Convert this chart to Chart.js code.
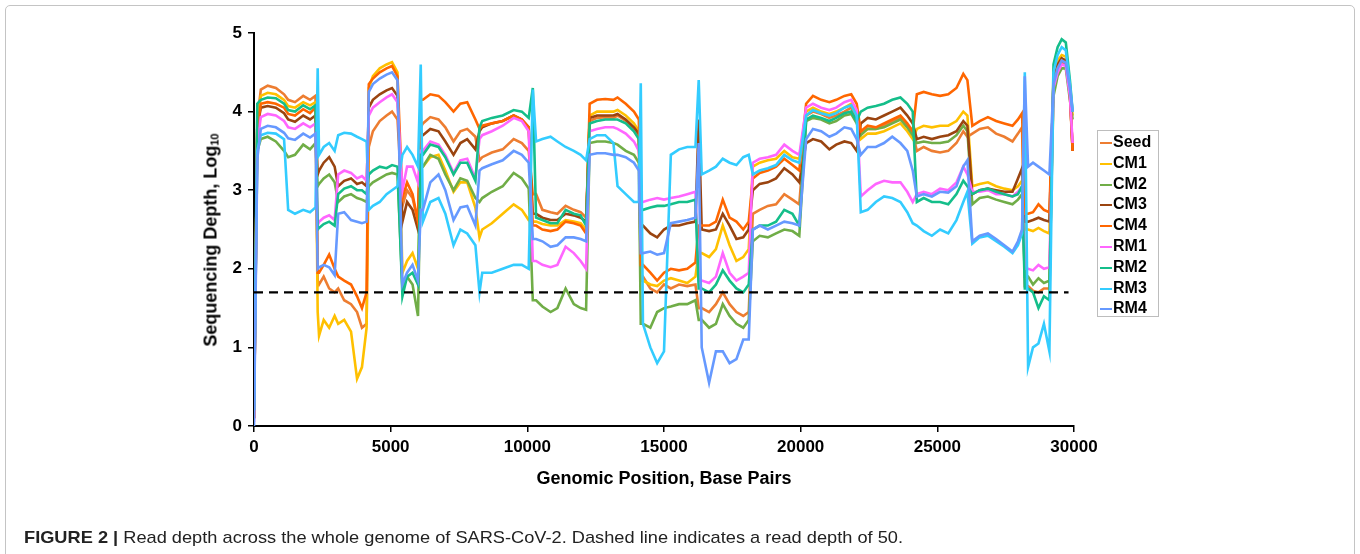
<!DOCTYPE html>
<html>
<head>
<meta charset="utf-8">
<script src="https://cdn.jsdelivr.net/npm/chart.js@4.4.1/dist/chart.umd.min.js"></script>
<style>
  html, body { margin: 0; padding: 0; background: #ffffff; }
  #wrap { position: relative; width: 1360px; height: 554px; overflow: hidden; font-family: "Liberation Sans", Arial, sans-serif; }
  #frame { position: absolute; left: 5px; top: 5px; width: 1350px; height: 560px; border: 1px solid #c4c4c4; border-radius: 5px; box-sizing: border-box; }
  #chart { position: absolute; left: 0; top: 0; }
  #ytitle { position: absolute; left: 211px; top: 240px; transform: translate(-50%, -50%) rotate(-90deg); font-weight: bold; font-size: 18px; white-space: nowrap; color: #000; }
  #ytitle sub { font-size: 11px; vertical-align: -2px; }
  #legend { position: absolute; left: 1097px; top: 130px; width: 62px; height: 187px; border: 1px solid #bdbdbd; box-sizing: border-box; padding-top: 1px; }
  .li { position: relative; height: 20.8px; line-height: 20.8px; font-weight: bold; font-size: 16px; color: #000; white-space: nowrap; }
  .li i { position: absolute; left: 2px; top: 10px; width: 12px; height: 2px; }
  .li span { position: absolute; left: 15px; top: 0; }
  #cap { position: absolute; left: 24px; top: 528px; font-size: 17px; color: #222; white-space: nowrap; transform-origin: 0 0; }
</style>
</head>
<body>
<div id="wrap">
  <div id="frame"></div>
  <canvas id="chart" width="1360" height="554"></canvas>
  <div id="ytitle">Sequencing Depth, Log<sub>10</sub></div>
  <div id="legend"></div>
  <div id="cap"><b>FIGURE 2 |</b> Read depth across the whole genome of SARS-CoV-2. Dashed line indicates a read depth of 50.</div>
</div>
<script>
// ---------------- data ----------------
const seriesNames = ['Seed', 'CM1', 'CM2', 'CM3', 'CM4', 'RM1', 'RM2', 'RM3', 'RM4'];

// genomic positions (bp) shared by all series
const positions = [
  0, 120, 250, 500, 800, 1100, 1250, 1500, 1800, 2050, 2250,
  2330, 2380, 2550, 2750, 2950,
  3080, 3300, 3550, 3770, 3950, 4120,
  4200, 4350, 4600, 4850, 5050, 5250,
  5430, 5600, 5800, 6000,
  6100,
  6180, 6450, 6750, 7000, 7300, 7550, 7800, 8100,
  8250, 8350, 8700, 9100, 9500, 9800, 10050,
  10200,
  10320, 10550, 10850, 11100, 11400, 11700, 11950, 12150,
  12280, 12550, 12850, 13150, 13300, 13600, 13900, 14080,
  14150,
  14230, 14500, 14750, 15000, 15250, 15550, 15850, 16150,
  16270,
  16380, 16650, 16900, 17150, 17400, 17650, 17900, 18100,
  18250, 18500, 18800, 19100, 19400, 19700, 19950,
  20200, 20450, 20750, 21050, 21300, 21600, 21850, 22050,
  22200, 22450, 22750, 23050, 23350, 23650, 23900, 24100,
  24250, 24500, 24800, 25100, 25400, 25700, 25950, 26100,
  26280, 26550, 26850, 27150, 27450, 27750, 27950, 28100,
  28200,
  28320, 28500, 28700, 28900, 29100,
  29250, 29400, 29550, 29700, 29850, 29950
];

// log10 read depth per series
const seed = [
  0.1, 3.9, 4.28, 4.33, 4.3, 4.22, 4.15, 4.12, 4.2, 4.15, 4.2,
  1.85, 1.8, 1.9, 1.75, 1.7,
  1.75, 1.6, 1.55, 1.45, 1.25, 1.3,
  3.55, 3.75, 3.88, 3.95, 4.0, 3.9,
  2.8, 3.0, 2.9, 2.6,
  3.8,
  3.85, 3.93, 3.9, 3.8, 3.62, 3.75, 3.78, 3.68,
  3.38, 3.42, 3.48, 3.52, 3.65, 3.6, 3.5,
  2.95,
  2.95, 2.75, 2.72, 2.7, 2.8, 2.75, 2.72, 2.65,
  3.88, 3.92, 3.93, 3.92, 3.95, 3.88, 3.78, 3.7,
  1.9,
  1.9, 1.75, 1.7, 1.8, 1.75, 1.8, 1.78, 1.8,
  1.5,
  1.5, 1.45, 1.55, 1.7, 1.55, 1.45, 1.4, 1.45,
  2.7, 2.75, 2.8, 2.82, 2.95, 2.88, 2.82,
  3.95, 4.0, 3.97, 3.92, 3.95, 4.0, 4.05, 3.92,
  3.72, 3.78, 3.78, 3.82, 3.88, 3.92, 3.82, 3.72,
  3.5, 3.55, 3.5, 3.48, 3.5, 3.6, 3.75, 3.68,
  3.72, 3.78, 3.8, 3.72, 3.68, 3.62, 3.72, 3.8,
  1.78,
  1.78, 1.72, 1.7, 1.75, 1.75,
  4.35, 4.55, 4.62, 4.6, 4.2, 3.5
];
const cm1 = [
  0.1, 3.8, 4.2, 4.24, 4.22, 4.15, 4.07, 4.05, 4.12, 4.08, 4.12,
  1.45, 1.15, 1.35, 1.25, 1.4,
  1.3, 1.35, 1.2, 0.6, 0.75, 1.25,
  4.3, 4.45, 4.55, 4.6, 4.63, 4.5,
  1.95, 2.1, 2.2, 2.0,
  3.3,
  3.3, 3.42, 3.45, 3.25, 2.98, 3.1, 3.1, 2.78,
  2.4, 2.5, 2.58, 2.7, 2.82, 2.75, 2.62,
  2.6,
  2.6, 2.57, 2.55, 2.55, 2.62, 2.6, 2.58, 2.5,
  3.95, 4.0, 4.0, 4.0, 4.02, 3.95, 3.85, 3.75,
  1.85,
  1.85, 1.8, 1.78, 1.85, 1.88, 1.85, 1.82, 1.9,
  2.2,
  2.2, 2.15, 2.25, 2.55, 2.3, 2.1, 2.15, 2.25,
  3.3, 3.35, 3.38, 3.4, 3.5, 3.42, 3.4,
  4.0, 4.05, 4.0, 3.97, 4.0, 4.05, 4.1, 3.97,
  3.65, 3.72, 3.72, 3.75, 3.8, 3.85, 3.75, 3.65,
  3.78, 3.82, 3.8, 3.82, 3.82, 3.88, 4.0, 3.95,
  3.05, 3.08, 3.1, 3.05, 3.02, 3.0, 3.05, 3.12,
  2.5,
  2.5, 2.48, 2.52, 2.48, 2.45,
  4.45, 4.65, 4.72, 4.7, 4.3, 3.95
];
const cm2 = [
  0.2, 3.5, 3.65, 3.68, 3.62, 3.5, 3.42, 3.45, 3.58, 3.52, 3.6,
  3.05, 3.08, 3.15, 3.2, 3.1,
  2.85, 2.92, 2.95, 2.9, 2.88, 2.85,
  3.05, 3.1, 3.15, 3.2, 3.22, 3.2,
  1.75, 1.9, 1.8, 1.4,
  3.3,
  3.3, 3.45, 3.4, 3.2, 3.0, 3.15, 3.12, 2.9,
  2.85, 2.9, 2.98, 3.05, 3.22, 3.15, 3.02,
  1.6,
  1.6, 1.52, 1.45, 1.5, 1.75, 1.55, 1.5, 1.48,
  3.6, 3.62, 3.62, 3.6, 3.58, 3.5, 3.45, 3.35,
  1.3,
  1.3, 1.25, 1.45, 1.5, 1.52, 1.55, 1.55, 1.6,
  1.35,
  1.35, 1.25, 1.3, 1.55, 1.4, 1.3, 1.25, 1.35,
  2.35, 2.42, 2.4, 2.45, 2.5, 2.48, 2.42,
  3.88, 3.92, 3.9, 3.85, 3.88, 3.95, 3.97, 3.85,
  3.7, 3.78, 3.78, 3.8, 3.85, 3.9, 3.8, 3.7,
  3.6, 3.62, 3.6, 3.6, 3.62, 3.7, 3.82, 3.75,
  2.82, 2.9, 2.92, 2.88, 2.85, 2.82, 2.88, 2.95,
  1.9,
  1.9, 1.8, 1.88, 1.82, 1.85,
  4.2, 4.45, 4.55, 4.55, 4.15, 3.9
];
const cm3 = [
  0.1, 3.8, 4.05, 4.07, 4.05, 3.98, 3.9, 3.87, 3.95, 3.9, 3.95,
  3.2, 3.25, 3.35, 3.42, 3.3,
  3.05, 3.12, 3.15, 3.08, 3.1, 3.05,
  4.05, 4.15, 4.22, 4.27, 4.3, 4.2,
  2.6, 2.85, 2.75, 2.5,
  3.7,
  3.7, 3.78, 3.75, 3.62, 3.45, 3.6, 3.65, 3.52,
  3.75, 3.8, 3.85, 3.88, 3.95, 3.9, 3.8,
  2.7,
  2.7, 2.65, 2.62, 2.62, 2.7, 2.68, 2.65, 2.6,
  3.92, 3.95, 3.95, 3.95, 3.97, 3.9, 3.8, 3.72,
  2.55,
  2.55, 2.45, 2.4, 2.5, 2.55, 2.55, 2.58, 2.6,
  3.9,
  2.5, 2.48, 2.5, 2.7, 2.55, 2.38, 2.4, 2.5,
  3.0, 3.08, 3.1, 3.15, 3.28, 3.2, 3.1,
  3.6, 3.65, 3.62, 3.52, 3.58, 3.62, 3.6, 3.5,
  3.85, 3.92, 3.9, 3.95, 4.0, 4.05, 3.95, 3.85,
  3.65, 3.68, 3.65, 3.68, 3.7, 3.75, 3.88, 3.82,
  2.95, 3.0, 3.02, 3.0, 2.98, 2.98, 3.15, 3.28,
  2.6,
  2.6, 2.62, 2.65, 2.62, 2.6,
  4.4, 4.6, 4.68, 4.65, 4.25, 3.5
];
const cm4 = [
  0.1, 3.8, 4.1, 4.12, 4.1, 4.05, 3.97, 3.95, 4.03, 3.98, 4.05,
  1.95, 1.95, 2.05, 2.18, 2.0,
  1.9, 1.85, 1.8, 1.65, 1.5, 1.7,
  4.35, 4.42, 4.5, 4.55, 4.58, 4.45,
  2.9, 3.1, 2.95, 2.6,
  4.15,
  4.15, 4.22, 4.2, 4.12, 4.0, 4.1, 4.12, 3.9,
  3.78, 3.82, 3.85, 3.88, 3.95, 3.9, 3.8,
  2.55,
  2.55, 2.5, 2.48, 2.5, 2.6, 2.58, 2.55, 2.45,
  4.1, 4.15, 4.16, 4.15, 4.18, 4.1, 4.0, 3.9,
  2.05,
  2.05, 1.95, 1.85, 1.95, 2.0, 1.98, 2.0, 2.08,
  2.55,
  2.55, 2.55, 2.6, 2.88, 2.65, 2.6, 2.5, 2.6,
  3.15, 3.22, 3.25, 3.3, 3.4, 3.32, 3.25,
  4.1, 4.2, 4.15, 4.12, 4.15, 4.2, 4.22, 4.1,
  3.75, 3.82, 3.8, 3.85, 3.9, 3.95, 3.85, 3.75,
  4.22, 4.25, 4.22, 4.2, 4.22, 4.3, 4.48, 4.4,
  3.82, 3.88, 3.93, 3.88, 3.85, 3.82, 3.9, 3.98,
  2.7,
  2.7, 2.72, 2.82, 2.75, 2.72,
  4.35, 4.55, 4.65, 4.62, 4.25, 3.5
];
const rm1 = [
  0.05, 3.6, 3.93, 3.97, 3.95, 3.88, 3.8, 3.78, 3.85, 3.8, 3.85,
  2.55, 2.6, 2.65, 2.68, 2.62,
  3.2, 3.25, 3.22, 3.15, 3.18, 3.12,
  3.95, 4.05, 4.12, 4.18, 4.22, 4.12,
  3.0, 3.3, 3.3, 3.1,
  3.5,
  3.5, 3.62, 3.58, 3.45, 3.22, 3.38, 3.4, 3.15,
  3.65, 3.7, 3.75, 3.82, 3.92, 3.88, 3.75,
  2.1,
  2.1, 2.05, 2.02, 2.05, 2.28, 2.2, 2.1, 2.0,
  3.75, 3.78, 3.8, 3.8, 3.78, 3.72, 3.62, 3.5,
  2.85,
  2.85, 2.88, 2.9, 2.88, 2.9, 2.92, 2.95, 2.98,
  1.85,
  1.85, 1.82, 1.9, 2.2, 1.95, 1.85, 1.9, 1.95,
  3.35, 3.4, 3.42, 3.45, 3.58, 3.5, 3.45,
  4.05, 4.1, 4.05, 4.02, 4.05, 4.12, 4.15, 4.02,
  2.92, 3.0, 3.08, 3.12, 3.1, 3.1, 2.98, 2.85,
  2.95, 2.98, 2.95, 3.02, 3.0, 3.1, 3.3, 3.2,
  2.98, 2.98, 3.0, 2.95, 2.95, 2.92, 2.98, 3.05,
  2.0,
  2.0, 1.98, 2.05, 2.0, 2.02,
  4.3, 4.5, 4.6, 4.58, 4.2, 3.6
];
const rm2 = [
  0.2, 4.1, 4.15, 4.18, 4.17, 4.1, 4.02, 4.0, 4.08, 4.03, 4.08,
  2.5, 2.52, 2.57, 2.6, 2.55,
  2.95, 3.02, 3.05, 3.0, 3.0, 2.95,
  3.2, 3.25, 3.3, 3.28, 3.32, 3.3,
  1.65, 1.9, 1.95, 1.8,
  3.45,
  3.45, 3.58, 3.55, 3.42, 3.2, 3.35, 3.35, 3.12,
  3.8, 3.88, 3.92, 3.95, 4.02, 4.0, 3.92,
  4.3,
  2.65, 2.62, 2.58, 2.58, 2.75, 2.7, 2.68, 2.55,
  3.85, 3.88, 3.9, 3.9, 3.9, 3.85, 3.75, 3.65,
  2.75,
  2.75, 2.78, 2.8, 2.8, 2.82, 2.85, 2.85, 2.88,
  1.75,
  1.75, 1.7, 1.8, 1.98, 1.85, 1.75, 1.7, 1.8,
  2.5, 2.55, 2.55, 2.6, 2.75, 2.7, 2.55,
  3.9, 3.95, 3.92, 3.88, 3.92, 3.98, 4.0, 3.88,
  4.0, 4.05, 4.07, 4.1, 4.15, 4.18, 4.1, 4.0,
  2.85, 2.9, 2.85, 2.85, 2.82, 2.95, 3.12, 3.05,
  2.95, 3.0, 3.02, 2.98, 2.95, 2.92, 2.95, 3.05,
  1.75,
  1.75, 1.7, 1.5, 1.65, 1.6,
  4.6, 4.82, 4.92, 4.88, 4.4, 4.0
];
const rm3 = [
  0.2, 3.5, 3.7, 3.73, 3.72, 3.65, 2.75, 2.7, 2.75, 2.72, 2.78,
  4.55, 3.45, 3.55, 3.6, 3.5,
  3.7, 3.73, 3.72, 3.68, 3.65, 3.62,
  2.75, 2.8, 2.85, 2.95, 3.0, 3.05,
  3.45, 3.55, 3.45, 3.3,
  4.6,
  2.6, 2.85, 2.9, 2.7, 2.3, 2.5, 2.45, 2.3,
  1.7, 1.95, 1.95, 2.0, 2.05, 2.05, 2.0,
  4.28,
  3.62, 3.65, 3.68, 3.62, 3.55, 3.5, 3.45, 3.38,
  3.65, 3.7, 3.7, 3.6, 3.05, 2.95, 2.85, 2.85,
  4.36,
  1.3, 1.0, 0.8, 0.95, 3.45, 3.52, 3.55, 3.55,
  4.4,
  3.2, 3.25, 3.3, 3.4, 3.35, 3.32, 3.42, 3.45,
  3.2, 3.25, 3.28, 3.32, 3.45, 3.38, 3.35,
  3.95, 4.02, 3.98, 3.95, 3.98, 4.05, 4.08, 3.95,
  2.72, 2.75, 2.85, 2.92, 2.9, 2.85, 2.72, 2.58,
  2.55, 2.48, 2.42, 2.5, 2.45, 2.62, 2.85, 2.98,
  2.32, 2.4, 2.42, 2.35, 2.28, 2.2, 2.3, 2.45,
  4.5,
  0.75, 1.0, 1.05, 1.3, 0.95,
  4.5, 4.72, 4.82, 4.78, 4.35, 4.0
];
const rm4 = [
  0.0, 3.4, 3.78, 3.82, 3.8, 3.73, 3.66, 3.64, 3.72, 3.67, 3.72,
  2.0, 2.02, 2.05, 2.02, 1.92,
  2.7, 2.72, 2.62, 2.6, 2.58, 2.6,
  4.25, 4.35, 4.42, 4.47, 4.5, 4.4,
  1.8, 1.95, 2.05, 1.85,
  2.75,
  2.75, 3.1, 3.2, 3.0, 2.62, 2.78, 2.8, 2.55,
  3.25, 3.28, 3.33, 3.38, 3.5, 3.45, 3.35,
  2.38,
  2.38, 2.35, 2.28, 2.3, 2.4, 2.4, 2.38, 2.35,
  3.45, 3.47, 3.47, 3.45, 3.45, 3.42, 3.35, 3.25,
  2.2,
  2.2, 2.22, 2.18, 2.2, 2.58, 2.6, 2.62, 2.65,
  3.6,
  1.0, 0.55, 0.95, 0.95, 0.8, 0.85, 1.1, 1.1,
  2.5, 2.55, 2.5, 2.55, 2.6, 2.58, 2.55,
  3.65, 3.78, 3.75, 3.68, 3.72, 3.8, 3.78, 3.65,
  3.45, 3.55, 3.55, 3.6, 3.68, 3.6, 3.5, 3.25,
  2.92, 2.95, 2.92, 2.98, 2.97, 3.05, 3.3, 3.38,
  2.35, 2.42, 2.45, 2.38, 2.3, 2.22, 2.35, 2.5,
  4.45,
  3.3, 3.35, 3.3, 3.25, 3.2,
  4.35, 4.55, 4.65, 4.62, 4.3, 4.0
];

const xTickValues = [0, 5000, 10000, 15000, 20000, 25000, 30000];
const yTickValues = [0, 1, 2, 3, 4, 5];
const thresholdDepth = 50;          // dashed reference line (read depth of 50)
const thresholdSpan = [0, 29800];   // genomic range covered by the dashed line

// ---------------- styling ----------------
const seriesColors = ['#ED7D31', '#FFC000', '#70AD47', '#9A4410', '#FF6600', '#FF66FF', '#14BE8A', '#33CCFF', '#6699FF'];
const FONT = '"Liberation Sans", Arial, sans-serif';

const seriesValues = [seed, cm1, cm2, cm3, cm4, rm1, rm2, rm3, rm4];
const datasets = seriesValues.map((vals, i) => ({
  label: seriesNames[i],
  data: positions.map((x, j) => ({ x: x, y: vals[j] })),
  borderColor: seriesColors[i],
  backgroundColor: seriesColors[i],
  borderWidth: 2.6,
  pointRadius: 0,
  tension: 0,
  fill: false,
  order: seriesNames.length - i
}));
const thrY = Math.log10(thresholdDepth);
datasets.push({
  label: 'threshold',
  data: thresholdSpan.map(x => ({ x: x, y: thrY })),
  borderColor: '#000',
  borderWidth: 2.2,
  borderDash: [9, 6],
  pointRadius: 0,
  fill: false,
  order: 0
});

// legend
const legend = document.getElementById('legend');
seriesNames.forEach((n, i) => {
  const d = document.createElement('div');
  d.className = 'li';
  d.innerHTML = '<i style="background:' + seriesColors[i] + '"></i><span>' + n + '</span>';
  legend.appendChild(d);
});

const axisCommon = {
  grid: { drawOnChartArea: false, drawTicks: true, tickLength: 6, color: '#000', lineWidth: 1.5 },
  border: { display: true, color: '#000', width: 2 }
};

new Chart(document.getElementById('chart'), {
  type: 'line',
  data: { datasets: datasets },
  options: {
    responsive: false,
    animation: false,
    events: [],
    layout: { padding: { left: 210, right: 286, top: 33, bottom: 64 } },
    plugins: { legend: { display: false }, tooltip: { enabled: false } },
    scales: {
      x: Object.assign({}, axisCommon, {
        type: 'linear', min: 0, max: 30000,
        afterBuildTicks: s => { s.ticks = xTickValues.map(v => ({ value: v })); },
        afterFit: s => { s.height = 64; },
        ticks: { color: '#000', font: { family: FONT, size: 17, weight: 'bold' }, padding: 5, maxRotation: 0, callback: v => String(v) },
        title: { display: true, text: 'Genomic Position, Base Pairs', color: '#000', font: { family: FONT, size: 18, weight: 'bold' }, padding: 0 }
      }),
      y: Object.assign({}, axisCommon, {
        type: 'linear', min: 0, max: 5,
        afterBuildTicks: s => { s.ticks = yTickValues.map(v => ({ value: v })); },
        afterFit: s => { s.width = 44; },
        ticks: { color: '#000', font: { family: FONT, size: 17, weight: 'bold' }, padding: 6, callback: v => String(v) }
      })
    }
  }
});

// fit caption width to the reference line length
const cap = document.getElementById('cap');
const w = cap.getBoundingClientRect().width;
cap.style.transform = 'scaleX(' + (879 / w) + ')';
</script>
</body>
</html>
